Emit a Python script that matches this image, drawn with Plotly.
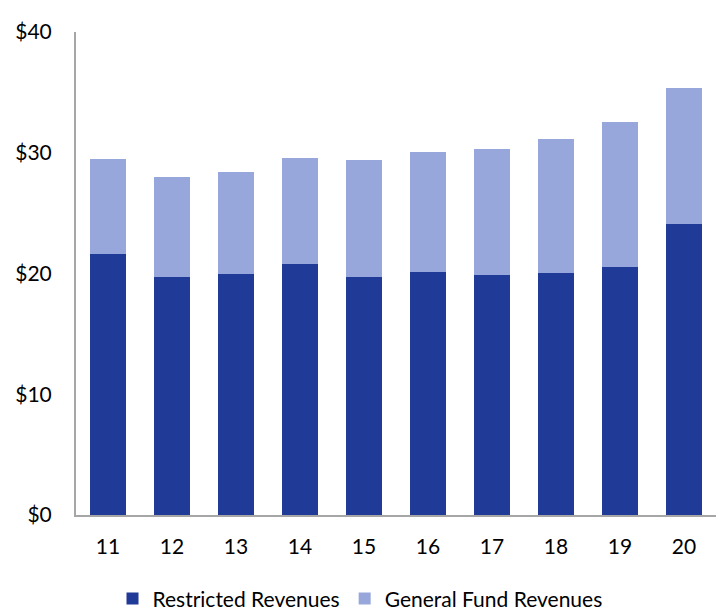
import plotly.graph_objects as go

years = ["11", "12", "13", "14", "15", "16", "17", "18", "19", "20"]
restricted = [21.6, 19.75, 20.0, 20.75, 19.75, 20.1, 19.85, 20.07, 20.56, 24.1]
totals = [29.46, 27.97, 28.38, 29.54, 29.38, 30.04, 30.29, 31.15, 32.55, 35.34]
general = [round(t - r, 2) for t, r in zip(totals, restricted)]

DARK = "#203A97"
LIGHT = "#97A7DB"
FONT = "Lato"

fig = go.Figure()
fig.add_trace(go.Bar(x=years, y=restricted, name="Restricted Revenues",
                     marker=dict(color=DARK, line=dict(width=0))))
fig.add_trace(go.Bar(x=years, y=general, name="General Fund Revenues",
                     marker=dict(color=LIGHT, line=dict(width=0))))

fig.update_layout(
    barmode="stack",
    bargap=0.4375,
    width=720, height=611,
    margin=dict(l=76, r=4, t=32, b=96, autoexpand=False),
    plot_bgcolor="white", paper_bgcolor="white",
    font=dict(family=FONT, size=21, color="#000000"),
    showlegend=True,
    legend=dict(orientation="h", traceorder="normal",
                x=0.5, xref="container", xanchor="center",
                y=0.02, yref="container", yanchor="middle",
                font=dict(size=21), itemwidth=30, tracegroupgap=0),
    xaxis=dict(showline=True, linecolor="#A6A6A6", linewidth=2, ticks="",
               showgrid=False, ticklabelstandoff=12),
    yaxis=dict(range=[0, 40], dtick=10, tickprefix="$", showgrid=False,
               showline=True, linecolor="#A6A6A6", linewidth=2, ticks="",
               ticklabelstandoff=18, zeroline=False),
)

fig.write_html("out.html")
